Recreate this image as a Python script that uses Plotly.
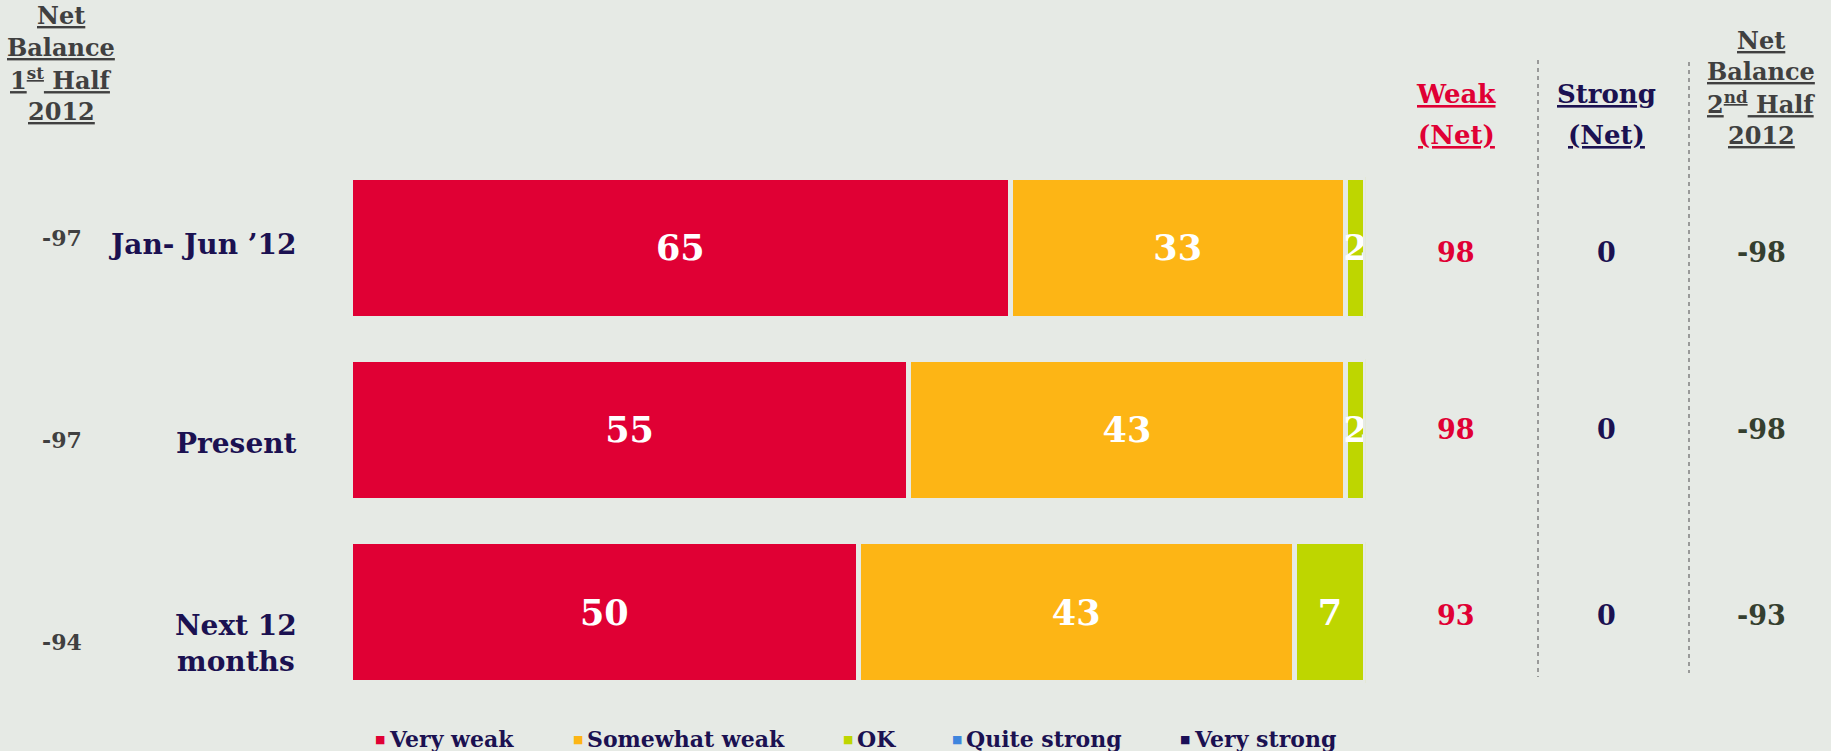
import plotly.graph_objects as go

# ---- data -----------------------------------------------------------------
periods = ["Jan- Jun \u201912", "Present", "Next 12<br>months"]
very_weak = [65, 55, 50]
somewhat_weak = [33, 43, 43]
ok = [2, 2, 7]
quite_strong = [0, 0, 0]
very_strong = [0, 0, 0]

net_first_half = [-97, -97, -94]
weak_net = [98, 98, 93]
strong_net = [0, 0, 0]
net_second_half = [-98, -98, -93]

series_names = ["Very weak", "Somewhat weak", "OK", "Quite strong", "Very strong"]
series_values = [very_weak, somewhat_weak, ok, quite_strong, very_strong]
series_colors = ["#E00034", "#FDB515", "#BED600", "#3F86DE", "#1B0F57"]

# ---- styling --------------------------------------------------------------
W, H = 1831, 751
BG = "#E6EAE5"
NAVY = "#1B1151"
GREY = "#404040"
RED = "#E00034"
OLIVE = "#353F2F"
SERIF = "DejaVu Serif"


def px_x(p):
    return p / W


def px_y(p):
    return 1 - p / H


fig = go.Figure()

for name, vals, col in zip(series_names, series_values, series_colors):
    fig.add_trace(go.Bar(
        y=periods, x=vals, name=name, orientation="h",
        marker=dict(color=col, line=dict(color=BG, width=5)),
        text=[str(v) if v else "" for v in vals],
        textposition="inside", insidetextanchor="middle",
        constraintext="none", textangle=0,
        textfont=dict(family=SERIF, size=35, color="white", weight="bold"),
        showlegend=False, hoverinfo="skip",
    ))

annotations = []


def note(text, x, y, size, color, xanchor="center", yref="paper", yshift=0,
         family=SERIF, xref="paper"):
    annotations.append(dict(
        text=text, x=x, y=y, xref=xref, yref=yref, xanchor=xanchor,
        yanchor="middle", yshift=yshift, showarrow=False,
        font=dict(family=family, size=size, color=color, weight="bold"),
    ))


# column headers
left_hdr = ["<u>Net</u>", "<u>Balance</u>", "<u>1<sup>st</sup> Half</u>", "<u>2012</u>"]
for t, yy in zip(left_hdr, [15, 47, 79, 111]):
    note(t, px_x(61), px_y(yy), 24, GREY)

right_hdr = ["<u>Net</u>", "<u>Balance</u>", "<u>2<sup>nd</sup> Half</u>", "<u>2012</u>"]
for t, yy in zip(right_hdr, [40, 71, 103, 135]):
    note(t, px_x(1761), px_y(yy), 24, GREY)

for t, yy in zip(["<u>Weak</u>", "<u>(Net)</u>"], [94, 135]):
    note(t, px_x(1456), px_y(yy), 26, RED)
for t, yy in zip(["<u>Strong</u>", "<u>(Net)</u>"], [94, 135]):
    note(t, px_x(1606), px_y(yy), 26, NAVY)

# per-row figures, positioned against each category
label_shift = [3, -14, -31]
left_shift = [10, -10, -30]
col_shift = [-5, 0, -3]
for i, p in enumerate(periods):
    note(p, px_x(299), p, 28, NAVY, xanchor="right", yref="y",
         yshift=label_shift[i])
    note(str(net_first_half[i]), px_x(62), p, 22, GREY, yref="y",
         yshift=left_shift[i])
    note(str(weak_net[i]), px_x(1456), p, 27, RED, yref="y",
         yshift=col_shift[i])
    note(str(strong_net[i]), px_x(1606), p, 27, NAVY, yref="y",
         yshift=col_shift[i])
    note(str(net_second_half[i]), px_x(1761), p, 27, OLIVE, yref="y",
         yshift=col_shift[i])

# legend row along the bottom edge (partly running off the page)
legend_x = [380, 578, 848, 957, 1185]
for name, col, lx in zip(series_names, series_colors, legend_x):
    annotations.append(dict(
        text="\u25A0", x=px_x(lx), y=px_y(739), xref="paper", yref="paper",
        xanchor="center", yanchor="middle", showarrow=False,
        font=dict(family="DejaVu Sans", size=11, color=col),
    ))
    annotations.append(dict(
        text=name, x=px_x(lx + 7), y=px_y(739), xref="paper", yref="paper",
        xanchor="left", yanchor="middle", showarrow=False,
        font=dict(family=SERIF, size=22, color=NAVY, weight="bold"),
    ))

# dashed column separators
shapes = []
for sx, y0, y1 in [(1538, 60, 677), (1689, 62, 673)]:
    shapes.append(dict(
        type="line", xref="paper", yref="paper",
        x0=px_x(sx), x1=px_x(sx), y0=px_y(y0), y1=px_y(y1),
        line=dict(color="#808080", width=1.5, dash="4px,4px"),
    ))

pitch = 182.25
top_center = 247.7
y_top = -top_center / pitch
y_bottom = y_top + H / pitch

fig.update_layout(
    width=W, height=H,
    margin=dict(l=0, r=0, t=0, b=0),
    paper_bgcolor=BG, plot_bgcolor=BG,
    barmode="stack", bargap=1 - 141 / pitch,
    xaxis=dict(domain=[350.5 / W, 1365.5 / W], range=[0, 100],
               visible=False, fixedrange=True),
    yaxis=dict(domain=[0, 1], range=[y_bottom, y_top], type="category",
               categoryorder="array", categoryarray=periods,
               visible=False, fixedrange=True),
    annotations=annotations,
    shapes=shapes,
    hovermode=False,
)

fig.write_html("out.html", config={"displayModeBar": False})
